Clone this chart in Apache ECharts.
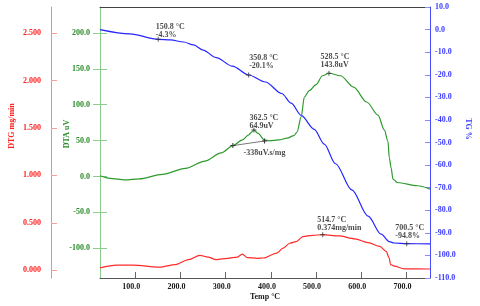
<!DOCTYPE html>
<html><head><meta charset="utf-8">
<script src="https://cdn.jsdelivr.net/npm/echarts@6/dist/echarts.min.js"></script>
<style>html,body{margin:0;padding:0;background:#fff}#c{width:480px;height:306px}</style>
</head><body><div id="c"></div>
<script>
// ---------------- data ----------------
const tempTicks = [100, 200, 300, 400, 500, 600, 700];
const dtaTicks = [-100, -50, 0, 50, 100, 150, 200];
const dtgTicks = [0, 0.5, 1.0, 1.5, 2.0, 2.5];

const tgTemp   = [22, 88, 150.8, 178, 207, 229, 250, 279, 315, 350.8, 388, 424, 445, 467, 496, 518, 543, 579, 615, 644, 662, 673, 700.5, 752];
const tgValues = [0.0, -1.9, -4.3, -4.6, -5.5, -6.8, -9.1, -12.4, -16.2, -20.1, -23.2, -28.3, -32.6, -38.0, -44.2, -50.7, -59.4, -71.0, -82.6, -90.6, -93.9, -94.5, -94.8, -94.9];

const dtaTemp   = [22, 44, 77, 109, 160, 211, 254, 290, 316, 337, 351, 359, 362.5, 371, 386, 396, 418, 436, 451, 458, 467, 474, 485, 500, 514, 528.5, 554, 583, 612, 637, 651, 659, 662, 666, 670, 680, 724, 752];
const dtaValues = [1, -2.5, -4.7, -3.3, 3, 11.3, 21.4, 32.8, 43, 51, 58, 62.6, 64.9, 60.3, 51, 49.7, 51, 53.4, 57, 62, 83, 110.7, 119.7, 128, 140.3, 143.8, 140.3, 124.4, 103.8, 85.5, 64.8, 48.9, 26, 12, -3.8, -8.4, -12.9, -17.6];

const dtgTemp   = [22, 59, 95, 153, 189, 218, 243, 261, 279, 304, 326, 337, 348, 370, 384, 413, 427, 442, 456, 471, 492, 514.7, 550, 586, 615, 641, 655, 662, 664.5, 673, 695, 752];
const dtgValues = [0.024, 0.052, 0.052, 0.031, 0.059, 0.111, 0.156, 0.138, 0.111, 0.125, 0.138, 0.17, 0.132, 0.125, 0.128, 0.18, 0.232, 0.284, 0.302, 0.354, 0.368, 0.374, 0.361, 0.33, 0.291, 0.25, 0.198, 0.128, 0.059, 0.042, 0.014, 0.012];

const tgMarks  = [[150.8, -4.3], [350.8, -20.1], [700.5, -94.8]];
const tgMarkText  = ['150.8 °C\n-4.3%', '350.8 °C\n-20.1%', '700.5 °C\n-94.8%'];
const dtaMarks = [[362.5, 64.9], [528.5, 143.8]];
const dtaMarkText = ['362.5 °C\n64.9uV', '528.5 °C\n143.8uV'];
const dtgMarks = [[514.7, 0.374]];
const dtgMarkText = ['514.7 °C\n0.374mg/min'];
const baseline = [[316, 43.0], [386, 49.5]];
const areaText = '-338uV.s/mg';

// ---------------- build ----------------
const zip = (a, b) => a.map((t, i) => [t, b[i]]);
const FONT = '"Liberation Serif","DejaVu Serif",serif';
const plus = 'path://M2,0H3V2H5V3H3V5H2V3H0V2H2Z';

const tgPos  = [[0, -14], [3, -19], [-9, -17]];
const dtaPos = [[-2, -13], [-6, -18]];
const dtgPos = [[-3, -16]];

function markSeries(marks, texts, pos, yIdx) {
  return {
    type: 'scatter', yAxisIndex: yIdx, symbol: plus, symbolSize: 5,
    itemStyle: { color: '#333' }, silent: true, z: 5,
    data: marks.map((m, i) => ({
      value: m,
      label: { show: true, formatter: texts[i], position: pos[i], align: 'left', verticalAlign: 'top',
        fontFamily: FONT, fontWeight: 'bold', fontSize: 8, lineHeight: 8, color: '#1a1a1a' }
    }))
  };
}

const labelStyle = (color) => ({ fontFamily: FONT, fontWeight: 'bold', fontSize: 8, color });

const option = {
  animation: false,
  backgroundColor: '#fff',
  grid: { left: 98, right: 47, top: 7, bottom: 24 },
  xAxis: [{
    type: 'value', min: 22, max: 752, position: 'bottom',
    name: 'Temp °C', nameLocation: 'middle', nameGap: 15, nameMoveOverlap: false,
    nameTextStyle: { fontFamily: FONT, fontWeight: 'bold', fontSize: 8, color: '#1a1a1a' },
    axisLine: { onZero: false, lineStyle: { color: '#555' } },
    axisTick: { inside: true, length: 6, lineStyle: { color: '#666' }, customValues: tempTicks },
    axisLabel: Object.assign({ customValues: tempTicks, margin: 5, padding: [0, 8, 0, 0],
      formatter: v => v.toFixed(1) }, labelStyle('#1a1a1a')),
    splitLine: { show: false }
  }, {
    type: 'value', min: 22, max: 752, position: 'top',
    axisLine: { onZero: false, lineStyle: { color: '#444' } },
    axisTick: { show: false }, axisLabel: { show: false }, splitLine: { show: false }
  }],
  yAxis: [{
    type: 'value', min: -141.4, max: 236.1, position: 'left', offset: 0,
    name: 'DTA uV', nameLocation: 'middle', nameGap: 29, nameRotate: 90, nameMoveOverlap: false,
    nameTextStyle: { fontFamily: FONT, fontWeight: 'bold', fontSize: 8, color: '#2a8a2a', padding: [0, 0, 0, 17] },
    axisLine: { show: true, onZero: false, lineStyle: { color: '#8ccc8c' } },
    axisTick: { show: true, inside: false, length: 7, lineStyle: { color: '#8ccc8c' }, customValues: dtaTicks },
    axisLabel: Object.assign({ customValues: dtaTicks, margin: 10, formatter: v => v.toFixed(1) }, labelStyle('#2a8a2a')),
    splitLine: { show: false }
  }, {
    type: 'value', min: -110, max: 10, interval: 10, position: 'right',
    name: 'TG %', nameLocation: 'middle', nameGap: 34, nameRotate: -90, nameMoveOverlap: false,
    nameTextStyle: { fontFamily: FONT, fontWeight: 'bold', fontSize: 8, color: '#3a3aff', padding: [0, 27, 0, 0] },
    axisLine: { show: true, onZero: false, lineStyle: { color: '#4a4aff' } },
    axisTick: { show: true, inside: true, length: 5, lineStyle: { color: '#8a8aff' } },
    axisLabel: Object.assign({ margin: 5, formatter: v => v.toFixed(1) }, labelStyle('#3a3aff')),
    splitLine: { show: false }
  }, {
    type: 'value', min: -0.083, max: 2.778, position: 'left', offset: 49,
    name: 'DTG mg/min', nameLocation: 'middle', nameGap: 35, nameRotate: 90, nameMoveOverlap: false,
    nameTextStyle: { fontFamily: FONT, fontWeight: 'bold', fontSize: 8, color: '#ff2020', padding: [0, 0, 0, 33] },
    axisLine: { show: true, onZero: false, lineStyle: { color: '#f08a8a' } },
    axisTick: { show: true, inside: true, length: 6, lineStyle: { color: '#f4a0a0' }, customValues: dtgTicks },
    axisLabel: Object.assign({ customValues: dtgTicks, margin: 10, formatter: v => v.toFixed(3) }, labelStyle('#ff2020')),
    splitLine: { show: false }
  }, {
    type: 'value', min: -141.4, max: 236.1, position: 'left', offset: 0,
    axisLine: { show: false, onZero: false },
    axisTick: { show: true, inside: true, length: 7, lineStyle: { color: '#8ccc8c' }, customValues: dtaTicks },
    axisLabel: { show: false }, splitLine: { show: false }
  }],
  series: [
    { type: 'line', yAxisIndex: 1, data: zip(tgTemp, tgValues), showSymbol: false, smooth: 0.3, smoothMonotone: 'x',
      lineStyle: { color: '#2525ff', width: 1.2 }, z: 3 },
    { type: 'line', yAxisIndex: 0, data: zip(dtaTemp, dtaValues), showSymbol: false, smooth: 0.3, smoothMonotone: 'x',
      lineStyle: { color: '#2e9a2e', width: 1.2 }, z: 3 },
    { type: 'line', yAxisIndex: 2, data: zip(dtgTemp, dtgValues), showSymbol: false, smooth: 0.3, smoothMonotone: 'x',
      lineStyle: { color: '#ff2a2a', width: 1.2 }, z: 3 },
    { type: 'line', yAxisIndex: 0, data: baseline, symbol: plus, symbolSize: 5, showSymbol: true,
      itemStyle: { color: '#333' }, lineStyle: { color: '#555', width: 0.8 }, z: 4 },
    { type: 'scatter', yAxisIndex: 0, data: [baseline[1]], symbolSize: 0, silent: true,
      label: { show: true, formatter: areaText, position: [-21, 8], align: 'left', verticalAlign: 'top',
        fontFamily: FONT, fontWeight: 'bold', fontSize: 8, color: '#1a1a1a' } },
    markSeries(tgMarks, tgMarkText, tgPos, 1),
    markSeries(dtaMarks, dtaMarkText, dtaPos, 0),
    markSeries(dtgMarks, dtgMarkText, dtgPos, 2)
  ]
};
echarts.init(document.getElementById('c'), null, { renderer: 'canvas' }).setOption(option);
</script>
</body></html>
